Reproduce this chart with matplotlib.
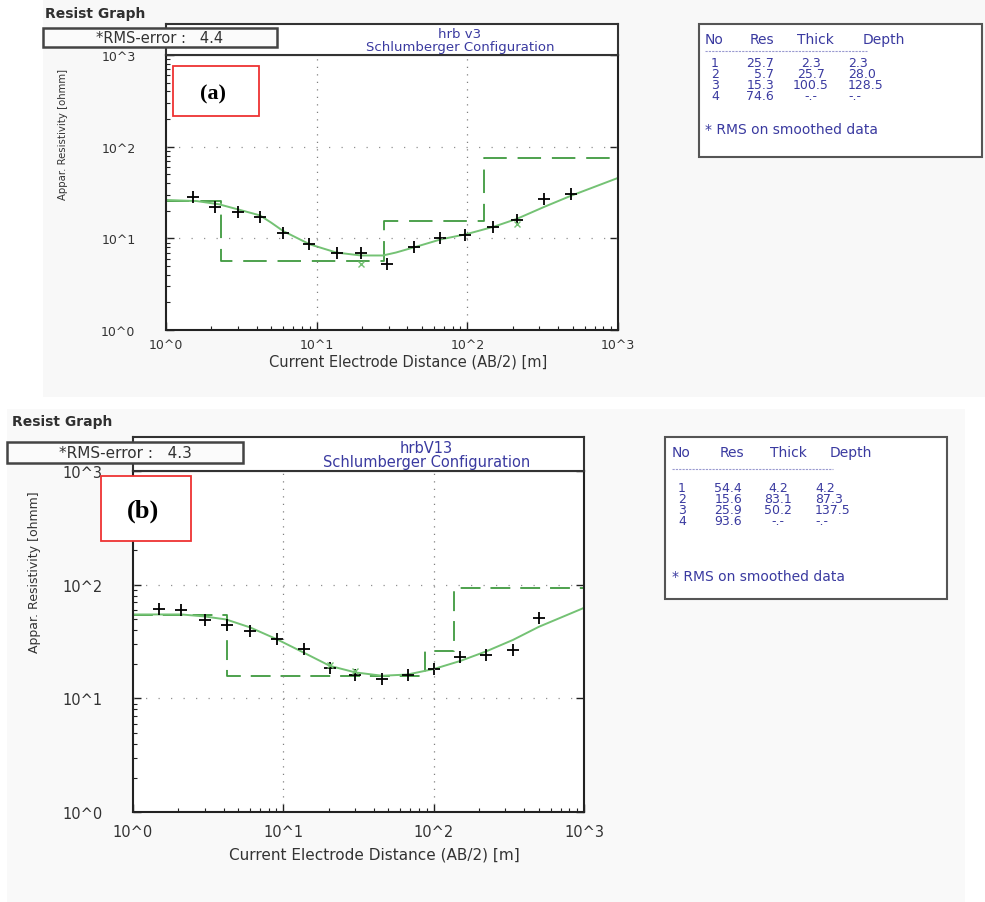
import numpy as np
import matplotlib.pyplot as plt
from matplotlib.patches import Rectangle

# measured apparent resistivity (AB/2 in m, rho in ohm-m)
ab2_a = [1.5, 2.1, 3.0, 4.2, 6.0, 8.9, 13.6, 19.8, 29.3, 44.6, 66.0, 97.0, 147.0, 213.0, 325.0, 484.0]
rho_a = [28.5, 22.1, 19.4, 17.2, 11.3, 8.6, 7.0, 7.0, 5.2, 8.1, 10.0, 10.9, 13.4, 16.0, 26.9, 30.7]
ab2_b = [1.5, 2.1, 3.0, 4.2, 6.0, 9.1, 13.7, 20.4, 30.2, 45.5, 67.0, 100.0, 150.0, 222.0, 336.0, 501.0]
rho_b = [61.6, 59.6, 48.7, 44.1, 39.3, 33.3, 27.4, 18.4, 16.1, 14.9, 16.1, 18.1, 23.0, 24.1, 26.6, 50.4]

# smoothed points (green x)
sm_x_a = [19.8, 213.0]
sm_y_a = [5.3, 14.4]
sm_x_b = [20.4, 29.9]
sm_y_b = [19.5, 17.3]

# calculated curves
curve_x_a = [1, 1.6, 2.25, 3.0, 4.2, 5.0, 6.0, 9.0, 13.5, 19.7, 27.5, 33.6, 45.7, 66.8, 98.5, 150, 213, 325, 484, 1000]
curve_y_a = [26.2, 25.5, 23.5, 20.7, 17.8, 14.8, 12.0, 8.6, 7.0, 6.5, 6.5, 7.0, 8.1, 9.75, 11.1, 13.4, 16.3, 22.1, 29.0, 45.6]
curve_x_b = [1, 2.1, 3.0, 4.17, 6.0, 9.1, 13.7, 20.4, 30.2, 45.5, 67, 100, 150, 222, 336, 501, 1000]
curve_y_b = [54.7, 54.7, 52.5, 49.4, 42.1, 33.0, 25.2, 19.3, 16.9, 15.8, 16.2, 18.1, 21.3, 25.8, 32.6, 42.6, 62.5]

# layer models
res_a = [25.7, 5.7, 15.3, 74.6]
thick_a = [2.3, 25.7, 100.5]
depth_a = [2.3, 28.0, 128.5]
res_b = [54.4, 15.6, 25.9, 93.6]
thick_b = [4.2, 83.1, 50.2]
depth_b = [4.2, 87.3, 137.5]

rms_a = 4.4
rms_b = 4.3
names = ['hrb v3', 'hrbV13']
dec_labels = ['10^0', '10^1', '10^2', '10^3']

W, H = 985, 903
fig = plt.figure(figsize=(W/100, H/100), dpi=100)
fig.patch.set_facecolor('white')

def fx(px):
    return px / W

def fy(py):
    return 1 - py / H

def box(x0, y0, x1, y1, fc='white', ec='#404040', lw=1.6, z=1):
    fig.patches.append(Rectangle((fx(x0), fy(y1)), fx(x1) - fx(x0), fy(y0) - fy(y1),
                                 transform=fig.transFigure, facecolor=fc, edgecolor=ec,
                                 lw=lw, zorder=z))

# light screenshot backgrounds
box(43, 0, 985, 398, fc='#f8f8f8', ec='none', z=-2)
box(7, 410, 965, 903, fc='#f9f9f9', ec='none', z=-2)

txtc = '#333333'
blue = '#3a3aa0'
green_dash = '#3f9a3f'
green_curve = '#74c274'


def panel(left, right, top, bottom, htop, ab2, rho, cx, cy, smx, smy, res, depth,
          name, rms, rms_box, label, label_box, fs, lab_fs, rg_xy, ylab_xy, xlab_xy, dash):
    ax = fig.add_axes([fx(left), fy(bottom), fx(right) - fx(left), fy(top) - fy(bottom)])
    ax.set_xscale('log')
    ax.set_yscale('log')
    ax.set_xlim(1, 1000)
    ax.set_ylim(1, 1000)
    ax.set_facecolor('white')

    # model steps
    edges = [1] + depth + [1000]
    vals = res + [res[-1]]
    ax.step(edges, vals, where='post', color=green_dash, lw=1.3, dashes=dash)
    ax.plot(cx, cy, color=green_curve, lw=1.4)
    ax.plot(ab2, rho, '+', color='black', ms=8, mew=1.3)
    ax.plot(smx, smy, 'x', color=green_curve, ms=5, mew=1.0)

    for v in [10, 100]:
        ax.axvline(v, color='#808080', lw=0.9, ls=(0, (1, 5)))
        ax.axhline(v, color='#909090', lw=0.9, ls=(0, (1, 9)))

    ax.set_xticks([1, 10, 100, 1000])
    ax.set_xticklabels(dec_labels)
    ax.set_yticks([1, 10, 100, 1000])
    ax.set_yticklabels(dec_labels)
    ax.tick_params(which='both', direction='in', colors='#222222', labelcolor=txtc,
                   labelsize=fs['tick'], top=False)
    ax.tick_params(which='major', length=6, width=1, right=True)
    ax.tick_params(which='minor', length=3, width=0.8, right=False)
    ax.tick_params(axis='x', pad=fs['xpad'])
    ax.tick_params(axis='y', pad=22)
    for s in ax.spines.values():
        s.set_color('#222222')
        s.set_linewidth(1.5)

    # header strip above axes
    hd = fig.add_axes([fx(left), fy(top), fx(right) - fx(left), fy(htop) - fy(top)])
    hd.set_xticks([])
    hd.set_yticks([])
    hd.patch.set_facecolor('white')
    for s in hd.spines.values():
        s.set_color('#333333')
        s.set_linewidth(1.5)
    cxh = (left + right) / 2 + 68
    fig.text(fx(cxh), fy(htop + (top - htop) * 0.3), name, ha='center', va='center',
             color=blue, fontsize=fs['title'])
    fig.text(fx(cxh), fy(htop + (top - htop) * 0.72), 'Schlumberger Configuration',
             ha='center', va='center', color=blue, fontsize=fs['title'])

    # rms box
    x0, y0, x1, y1 = rms_box
    box(x0, y0, x1, y1, fc='#fbfbfb', ec='#444444', lw=1.8, z=5)
    fig.text(fx((x0 + x1) / 2), fy((y0 + y1) / 2), '*RMS-error :   %.1f' % rms,
             ha='center', va='center', color=txtc, fontsize=fs['rms'], zorder=6)

    fig.text(fx(rg_xy[0]), fy(rg_xy[1]), 'Resist Graph', ha='left', va='center',
             color='#303030', fontsize=fs['rg'], fontweight='bold')
    fig.text(fx(ylab_xy[0]), fy(ylab_xy[1]), 'Appar. Resistivity [ohmm]', rotation=90,
             ha='center', va='center', color=txtc, fontsize=fs['ylab'])
    fig.text(fx(xlab_xy[0]), fy(xlab_xy[1]), 'Current Electrode Distance (AB/2) [m]',
             ha='center', va='center', color=txtc, fontsize=fs['xlab'])

    # panel letter
    x0, y0, x1, y1 = label_box
    box(x0, y0, x1, y1, fc='white', ec='#ee3333', lw=1.3, z=5)
    fig.text(fx((x0 + x1) / 2 - 3), fy((y0 + y1) / 2 + 2), label, ha='center', va='center',
             family='Liberation Serif', fontweight='bold', fontsize=lab_fs, zorder=6)
    return ax


fs_a = dict(tick=9, xpad=6, title=9.5, rms=10.5, rg=10, ylab=7.3, xlab=10.5)
fs_b = dict(tick=10.5, xpad=9, title=10.5, rms=11, rg=10, ylab=9, xlab=11)

panel(166, 618, 56, 331, 25, ab2_a, rho_a, curve_x_a, curve_y_a, sm_x_a, sm_y_a,
      res_a, depth_a, names[0], rms_a, (43, 29, 277, 48), '(a)', (173, 67, 259, 117),
      fs_a, 16, (45, 14), (63, 134), (408, 362), (13, 6))
panel(133, 584, 472, 813, 438, ab2_b, rho_b, curve_x_b, curve_y_b, sm_x_b, sm_y_b,
      res_b, depth_b, names[1], rms_b, (7, 443, 243, 464), '(b)', (101, 477, 191, 542),
      fs_b, 19, (12, 422), (35, 572), (374, 855), (11, 5.5))


def table(bx, res, thick, depth, fs, rfs, ls, cols, heads, row0, head_y, dash_y, note_y,
          left_x, dash_x1):
    x0, y0, x1, y1 = bx
    box(x0, y0, x1, y1, fc='white', ec='#555555', lw=1.5, z=1)
    c_no, c_res, c_th, c_dep = cols
    h_res, h_th, h_dep = heads
    hk = dict(color=blue, fontsize=fs, va='baseline')
    fig.text(fx(left_x), fy(head_y), 'No', **hk)
    fig.text(fx(h_res), fy(head_y), 'Res', **hk)
    fig.text(fx(h_th), fy(head_y), 'Thick', **hk)
    fig.text(fx(h_dep), fy(head_y), 'Depth', **hk)
    fig.lines.append(plt.Line2D([fx(left_x), fx(dash_x1)], [fy(dash_y), fy(dash_y)],
                                transform=fig.transFigure, color='#9a9ad0', lw=0.8,
                                ls=(0, (2, 1))))
    no_col = '\n'.join(str(i + 1) for i in range(len(res)))
    res_col = '\n'.join('%.1f' % r for r in res)
    th_col = '\n'.join(['%.1f' % t for t in thick] + ['-.-'])
    dep_col = '\n'.join(['%.1f' % d for d in depth] + ['-.-'])
    kw = dict(color=blue, fontsize=rfs, va='top', linespacing=ls)
    fig.text(fx(c_no), fy(row0), no_col, ha='center', multialignment='center', **kw)
    fig.text(fx(c_res), fy(row0), res_col, ha='right', multialignment='right', **kw)
    fig.text(fx(c_th), fy(row0), th_col, ha='center', multialignment='center', **kw)
    fig.text(fx(c_dep), fy(row0), dep_col, ha='left', multialignment='left', **kw)
    fig.text(fx(left_x), fy(note_y), '* RMS on smoothed data', color=blue, fontsize=fs,
             va='center')


table((699, 25, 982, 158), res_a, thick_a, depth_a, 10, 9, 0.81,
      (715, 774, 811, 848), (750, 797, 863), 57, 44, 52, 130, 705, 867)
table((665, 438, 947, 600), res_b, thick_b, depth_b, 10, 9, 0.81,
      (682, 742, 778, 815), (720, 770, 830), 482, 457, 470, 577, 672, 833)

fig.savefig('out.png', dpi=100, facecolor=fig.get_facecolor())
